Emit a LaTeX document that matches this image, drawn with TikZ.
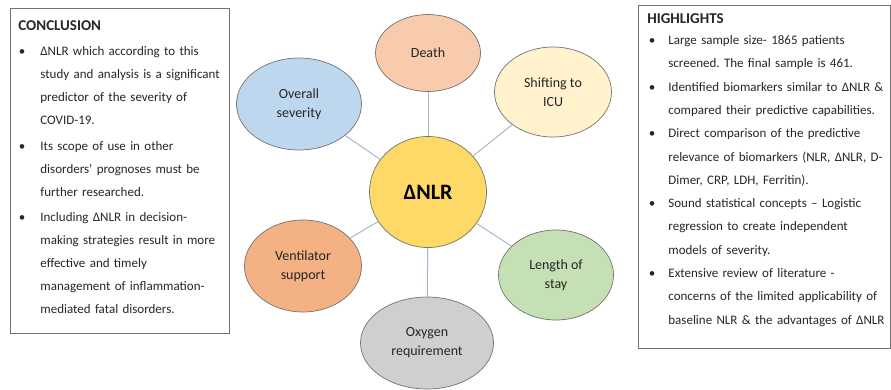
\documentclass[tikz,border=0pt]{standalone}
\usepackage{fontspec}
\setmainfont{Carlito}
\usetikzlibrary{shapes.geometric}
\frenchspacing

\definecolor{cdeath}{HTML}{F8CBAD}
\definecolor{csever}{HTML}{BDD7EE}
\definecolor{cicu}{HTML}{FFF2CC}
\definecolor{cnlr}{HTML}{FFD966}
\definecolor{cvent}{HTML}{F4B183}
\definecolor{cstay}{HTML}{C5E0B4}
\definecolor{coxy}{HTML}{D0CECE}
\definecolor{clink}{HTML}{A3B8CF}
\definecolor{ctext}{HTML}{262626}

% bullet item: #1 indent of the text, #2 gap from bullet to text
\newcommand{\bitem}[3]{{\leftskip=#1\noindent\llap{\textbullet\hspace{#2}}#3\par}}
\newcommand{\boxtitle}[1]{{\fontsize{15}{23}\selectfont\bfseries #1}\par}

\tikzset{
  bubble/.style = {ellipse, draw=black!55, line width=0.7pt, inner sep=0pt,
    align=center, text=ctext, font=\fontsize{14}{19}\selectfont},
  infobox/.style = {draw=black!55, line width=0.8pt, anchor=north west,
    text=ctext, align=left, inner ysep=4pt},
  link/.style = {draw=clink, line width=1pt}
}

\begin{document}
\begin{tikzpicture}[x=1pt, y=-1pt]
\useasboundingbox (0,0) rectangle (891,389);

% outcomes round the centre
\node[bubble, fill=cnlr, minimum width=117pt, minimum height=111pt,
  font=\fontsize{22}{24}\selectfont\bfseries, text=black] (nlr) at (428,192) {ΔNLR};
\node[bubble, fill=cdeath, minimum width=105pt, minimum height=77pt] (death) at (428,53) {Death};
\node[bubble, fill=csever, minimum width=125pt, minimum height=92pt] (sever) at (299,104) {Overall\\severity};
\node[bubble, fill=cicu, minimum width=117pt, minimum height=90pt] (icu) at (553,92) {Shifting to\\ICU};
\node[bubble, fill=cvent, minimum width=117pt, minimum height=92pt] (vent) at (303,266) {Ventilator\\support};
\node[bubble, fill=cstay, minimum width=115pt, minimum height=90pt] (stay) at (556,275) {Length of\\stay};
\node[bubble, fill=coxy, minimum width=133pt, minimum height=92pt] (oxy) at (427,343) {Oxygen\\requirement};

\foreach \n in {death, sever, icu, vent, stay, oxy}
  \draw[link] (nlr) -- (\n);

% text boxes
\node[infobox, text width=203pt, inner xsep=8pt,
  font=\fontsize{13}{23}\selectfont] (concl) at (10,8) {%
  \parbox[t][317pt][t]{\hsize}{%
  \vspace*{8pt}
  \boxtitle{CONCLUSION}
  \vspace{2pt}
  \bitem{22pt}{15pt}{ΔNLR which according to this\\ study and analysis is a significant\\ predictor of the severity of\\ COVID-19.}
  \vspace{3pt}
  \bitem{22pt}{15pt}{Its scope of use in other\\ disorders’ prognoses must be\\ further researched.}
  \vspace{2pt}
  \bitem{22pt}{15pt}{Including ΔNLR in decision-\\ making strategies result in more\\ effective and timely\\ management of inflammation-\\ mediated fatal disorders.}}};

\node[infobox, text width=244pt, inner xsep=4pt,
  font=\fontsize{13}{23.3}\selectfont] (highl) at (638,5) {%
  \parbox[t][335pt][t]{\hsize}{%
  \vspace*{4pt}
  \boxtitle{\hspace*{5pt}HIGHLIGHTS}
  \vspace{-2pt}
  \bitem{26pt}{13pt}{Large sample size- 1865 patients\\ screened. The final sample is 461.}
  \bitem{26pt}{13pt}{Identified biomarkers similar to ΔNLR \&\\ compared their predictive capabilities.}
  \bitem{26pt}{13pt}{Direct comparison of the predictive\\ relevance of biomarkers (NLR, ΔNLR, D-\\ Dimer, CRP, LDH, Ferritin).}
  \bitem{26pt}{13pt}{Sound statistical concepts -- Logistic\\ regression to create independent\\ models of severity.}
  \bitem{26pt}{13pt}{Extensive review of literature -\\ concerns of the limited applicability of\\ baseline NLR \& the advantages of ΔNLR}}};
\end{tikzpicture}
\end{document}
